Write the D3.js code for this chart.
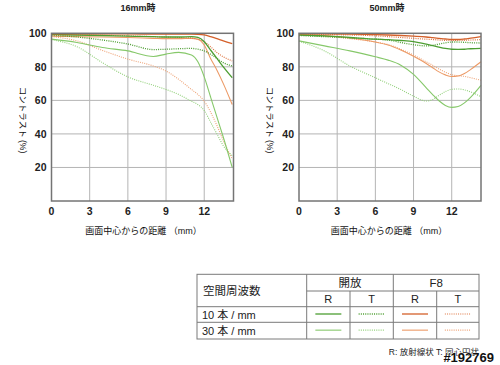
<!DOCTYPE html>
<html><head><meta charset="utf-8">
<script src="https://cdn.jsdelivr.net/npm/d3@7"></script>
<style>
html,body{margin:0;padding:0;background:#fff;}
svg{display:block;font-family:"Liberation Sans","Noto Sans CJK JP",sans-serif;}
</style></head><body>
<svg id="c" width="500" height="365"></svg>
<script>
// ---------- data ----------
const titles = ["16mm時", "50mm時"];
const xTicks = [0, 3, 6, 9, 12];
const yTicks = [20, 40, 60, 80, 100];
const xTitle = "画面中心からの距離 （mm）";
const yTitle = "コントラスト (%)";

// 16mm
const xs16 = [0, 2, 4, 6, 8, 9, 10, 11, 11.5, 12, 12.5, 13, 13.5, 14.2];
const w16_open10R = [99.3, 99, 98.7, 98.3, 98, 97.8, 97.8, 98, 97.5, 95, 90, 85, 80, 73.5];
const w16_open10T = [98.8, 97.8, 96, 93.6, 90.3, 90.5, 90.8, 91, 90.5, 89.5, 87.5, 85, 82.5, 80.5];
const w16_open30R = [96.5, 94.5, 91.5, 89.5, 86.2, 87.6, 88.6, 87, 83, 74, 62, 50, 38, 20];
const w16_open30T = [96.2, 92, 82.5, 74, 69, 66.5, 63.5, 59.5, 57.5, 54, 47, 40, 33, 27];
const w16_f810R  = [99.7, 99.7, 99.6, 99.6, 99.5, 99.5, 99.5, 99.5, 99.4, 99, 98, 96.8, 95.5, 93.8];
const w16_f810T  = [99.2, 99, 98.8, 98.5, 98, 97.8, 97.5, 97.2, 96.5, 95, 92, 88.5, 86, 83.5];
const w16_f830R  = [98.3, 98, 97.8, 97.5, 97, 96.8, 96.8, 97, 96.5, 93, 85, 78, 70, 57.5];
const w16_f830T  = [98, 95.5, 89.8, 84.6, 80.5, 77.5, 72.5, 66.5, 63.5, 59.5, 53, 45, 36, 25];

// 50mm
const xs50 = [0, 2, 4, 6, 7, 8, 9, 10, 10.5, 11, 11.5, 12, 12.5, 13, 13.5, 14.3];
const t50_open10R = [99, 98.5, 97.5, 96.5, 96.2, 95.7, 95, 93.5, 92.7, 91.8, 91, 90.5, 90.4, 90.5, 90.8, 91];
const t50_open10T = [98.7, 98, 97.3, 96.5, 96, 94.5, 93.2, 92.5, 92.8, 93.6, 94.3, 94.8, 94.8, 94.6, 94.4, 94.2];
const t50_open30R = [95.5, 92.5, 89.5, 86, 84, 81, 75.5, 67.5, 63.5, 59.8, 57, 55.8, 56.3, 58.5, 62, 69];
const t50_open30T = [95.3, 89.5, 80.5, 73.5, 70, 66.5, 62.5, 59.6, 60.5, 63, 65.2, 66.6, 66.8, 66.3, 65, 62.2];
const t50_f810R  = [99.8, 99.7, 99.5, 99.2, 99, 98.7, 98.3, 97.8, 97.4, 97, 96.6, 96.3, 96.3, 96.6, 97.1, 98];
const t50_f810T  = [99.5, 99.3, 99, 98.5, 98, 97.5, 97, 96.5, 96.3, 96, 95.8, 95.7, 95.7, 95.8, 96, 96.2];
const t50_f830R  = [99.2, 98.6, 97.2, 94.8, 93, 90, 86.3, 82, 79.5, 77, 75.2, 74.2, 74.5, 76, 78.5, 83];
const t50_f830T  = [98.8, 98.2, 96.8, 94.8, 93.3, 90.5, 87, 83, 81, 78.7, 76.8, 75.3, 74.7, 74.3, 73.5, 72];

// legend table
const freqRows = ["10 本 / mm", "30 本 / mm"];
const apertures = ["開放", "F8"];
const directions = ["R", "T"];
const tableHead = "空間周波数";
const footnote = "R: 放射線状  T: 同心円状";

// ---------- styles ----------
const sty = {
  open10R: {c: "#4d9e32", w: 1.3, d: null},
  open10T: {c: "#4d9e32", w: 1.3, d: "1,1.2"},
  open30R: {c: "#86c86a", w: 1.1, d: null},
  open30T: {c: "#92d07a", w: 1.1, d: "1,1.2"},
  f810R:  {c: "#d4602a", w: 1.3, d: null},
  f810T:  {c: "#dd7440", w: 1.2, d: "1,1.2"},
  f830R:  {c: "#ec9a66", w: 1.1, d: null},
  f830T:  {c: "#eea478", w: 1.1, d: "1,1.2"}
};
const order = ["open30T", "f830T", "open30R", "f830R", "open10T", "f810T", "open10R", "f810R"];

const charts = [
  {title: titles[0], xs: xs16, left: 51.5, tx: 138, ax: 143.5,
   s: {open10R: w16_open10R, open10T: w16_open10T, open30R: w16_open30R, open30T: w16_open30T,
       f810R: w16_f810R, f810T: w16_f810T, f830R: w16_f830R, f830T: w16_f830T}},
  {title: titles[1], xs: xs50, left: 299, tx: 387, ax: 389,
   s: {open10R: t50_open10R, open10T: t50_open10T, open30R: t50_open30R, open30T: t50_open30T,
       f810R: t50_f810R, f810T: t50_f810T, f830R: t50_f830R, f830T: t50_f830T}}
];

const svg = d3.select("#c");
const W = 182, pTop = 33.3, pBottom = 201;

charts.forEach(ch => {
  const x = d3.scaleLinear().domain([0, 14.3]).range([ch.left, ch.left + W]);
  const y = d3.scaleLinear().domain([0, 100]).range([pBottom, pTop]);
  const g = svg.append("g");

  g.selectAll(".gx").data(xTicks.filter(t => t > 0)).join("line")
    .attr("x1", d => x(d)).attr("x2", d => x(d)).attr("y1", pTop).attr("y2", pBottom)
    .attr("stroke", "#b4b4b4").attr("stroke-width", 1);
  g.selectAll(".gy").data(yTicks.filter(t => t < 100)).join("line")
    .attr("x1", x(0)).attr("x2", x(14.3)).attr("y1", d => y(d)).attr("y2", d => y(d))
    .attr("stroke", "#b4b4b4").attr("stroke-width", 1);

  const line = d3.line().x(d => x(d[0])).y(d => y(d[1])).curve(d3.curveMonotoneX);
  order.forEach(k => {
    const pts = ch.xs.map((v, i) => [v, ch.s[k][i]]);
    g.append("path").datum(pts).attr("d", line).attr("fill", "none")
      .attr("stroke", sty[k].c).attr("stroke-width", sty[k].w)
      .attr("stroke-dasharray", sty[k].d);
  });

  g.append("rect").attr("x", x(0)).attr("y", pTop).attr("width", W).attr("height", pBottom - pTop)
    .attr("fill", "none").attr("stroke", "#747474").attr("stroke-width", 1.5);

  g.selectAll(".tx").data(xTicks).join("text")
    .attr("x", d => x(d)).attr("y", 215).attr("text-anchor", "middle")
    .attr("font-size", 10.5).attr("font-weight", "bold").attr("fill", "#222").text(d => d);
  g.selectAll(".ty").data(yTicks).join("text")
    .attr("x", ch.left - 5).attr("y", d => y(d) + 3.8).attr("text-anchor", "end")
    .attr("font-size", 10.5).attr("font-weight", "bold").attr("fill", "#222").text(d => d);

  g.append("text").attr("x", ch.tx).attr("y", 10.5).attr("text-anchor", "middle")
    .attr("font-size", 9).attr("font-weight", "bold").attr("fill", "#222").text(ch.title);
  g.append("text").attr("x", ch.ax).attr("y", 233.5).attr("text-anchor", "middle")
    .attr("font-size", 9).attr("fill", "#111").text(xTitle);
  g.append("text").attr("transform", `translate(${ch.left - 29},120) rotate(90)`)
    .attr("text-anchor", "middle").attr("dy", "0.35em")
    .attr("font-size", 8.5).attr("fill", "#111").text(yTitle);
});

// ---------- legend table ----------
const T = svg.append("g");
const colX = [197, 306.7, 350, 393.3, 436.7, 479];
const rowY = [274.3, 291, 306.7, 322.3, 339];
const bc = "#7a7a7a";
T.append("rect").attr("x", colX[0]).attr("y", rowY[0]).attr("width", colX[5] - colX[0])
  .attr("height", rowY[4] - rowY[0]).attr("fill", "none").attr("stroke", bc).attr("stroke-width", 1);
T.append("line").attr("x1", colX[1]).attr("x2", colX[5]).attr("y1", rowY[1]).attr("y2", rowY[1]).attr("stroke", bc);
[rowY[2], rowY[3]].forEach(yy => T.append("line").attr("x1", colX[0]).attr("x2", colX[5]).attr("y1", yy).attr("y2", yy).attr("stroke", bc));
T.append("line").attr("x1", colX[1]).attr("x2", colX[1]).attr("y1", rowY[0]).attr("y2", rowY[4]).attr("stroke", bc);
T.append("line").attr("x1", colX[3]).attr("x2", colX[3]).attr("y1", rowY[0]).attr("y2", rowY[4]).attr("stroke", bc);
[colX[2], colX[4]].forEach(xx => T.append("line").attr("x1", xx).attr("x2", xx).attr("y1", rowY[1]).attr("y2", rowY[4]).attr("stroke", bc));

T.append("text").attr("x", 203).attr("y", 295).attr("font-size", 11.5).attr("fill", "#222").text(tableHead);
apertures.forEach((a, i) => {
  T.append("text").attr("x", (colX[1 + 2 * i] + colX[3 + 2 * i]) / 2).attr("y", 287)
    .attr("text-anchor", "middle").attr("font-size", 11.5).attr("fill", "#222").text(a);
  directions.forEach((d, j) => {
    T.append("text").attr("x", (colX[1 + 2 * i + j] + colX[2 + 2 * i + j]) / 2).attr("y", 303)
      .attr("text-anchor", "middle").attr("font-size", 11).attr("fill", "#222").text(d);
  });
});
const keys = [["open10R", "open10T", "f810R", "f810T"], ["open30R", "open30T", "f830R", "f830T"]];
freqRows.forEach((r, i) => {
  const cy = (rowY[2 + i] + rowY[3 + i]) / 2;
  T.append("text").attr("x", 202).attr("y", cy + 4).attr("font-size", 11).attr("fill", "#222").text(r);
  keys[i].forEach((k, j) => {
    const cx = (colX[1 + j] + colX[2 + j]) / 2;
    T.append("line").attr("x1", cx - 13).attr("x2", cx + 13).attr("y1", cy - 0.5).attr("y2", cy - 0.5)
      .attr("stroke", sty[k].c).attr("stroke-width", sty[k].w).attr("stroke-dasharray", sty[k].d);
  });
});
T.append("text").attr("x", 479).attr("y", 355).attr("text-anchor", "end")
  .attr("font-size", 8.5).attr("fill", "#222").text(footnote);
T.append("text").attr("x", 494).attr("y", 362).attr("text-anchor", "end")
  .attr("font-size", 13).attr("font-weight", "bold").attr("fill", "#111")
  .attr("stroke", "#fff").attr("stroke-width", 0.8).attr("paint-order", "stroke").text("#192769");
</script>
</body></html>
